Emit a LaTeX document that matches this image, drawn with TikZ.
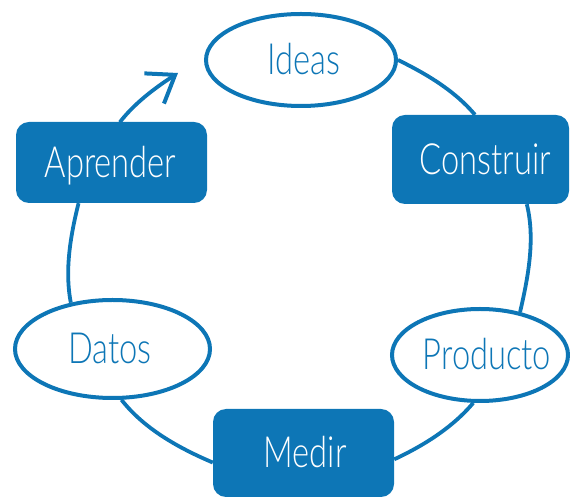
\documentclass[tikz,border=0pt]{standalone}
\usepackage{fontspec}
\IfFontExistsTF{Lato Light}{\setmainfont{Lato Light}[FakeStretch=0.76]}{\setmainfont{Lato}[FakeStretch=0.76]}
\usetikzlibrary{shapes.geometric,arrows.meta}
\definecolor{lsblue}{RGB}{13,118,182}
\newcommand{\shiftedtext}[2]{\makebox[0pt]{\hspace*{#1}#2}}
\begin{document}
\begin{tikzpicture}[x=1pt,y=1pt,
  every node/.style={font=\fontsize{43}{47}\selectfont, text height=30pt, text depth=0pt, inner sep=0pt},
  idea/.style={ellipse, draw=lsblue, line width=4pt, fill=white, text=lsblue},
  stepbox/.style={rectangle, rounded corners=13pt, fill=lsblue, text=white},
  link/.style={draw=lsblue, line width=3.8pt, looseness=0.85}]
\useasboundingbox (0,0) rectangle (570,500);
\node[idea, minimum width=190pt, minimum height=92pt] (ideas) at (301,440) {\shiftedtext{6pt}{Ideas}};
\node[stepbox, minimum width=177pt, minimum height=89pt] (construir) at (480.5,340.5) {\shiftedtext{10pt}{Construir}};
\node[idea, minimum width=176pt, minimum height=92pt] (producto) at (480,145) {\shiftedtext{14pt}{Producto}};
\node[stepbox, minimum width=181pt, minimum height=88pt] (medir) at (303.5,47) {\shiftedtext{3pt}{Medir}};
\node[idea, minimum width=195pt, minimum height=98pt] (datos) at (112.5,151) {\shiftedtext{-5pt}{Datos}};
\node[stepbox, minimum width=191pt, minimum height=81pt] (aprender) at (111.5,337.5) {\shiftedtext{-2pt}{Aprender}};
\coordinate (tip) at (178,427);
\path[link] (ideas.east) to[out=-26,in=130] (construir.97);
\path[link] (construir.-44) to[out=-76,in=77] (producto.47);
\path[link] (producto.-98) to[out=-130,in=25] (medir.-4);
\path[link] (medir.186) to[out=157,in=-52] (datos.-80);
\path[link] (datos.132) to[out=101,in=-104] (aprender.-129);
\path[link, line cap=round, -{Straight Barb[length=25pt,width=36pt,line width=4pt]}] (aprender.78) to[out=52,in=213] (tip);
\end{tikzpicture}
\end{document}
